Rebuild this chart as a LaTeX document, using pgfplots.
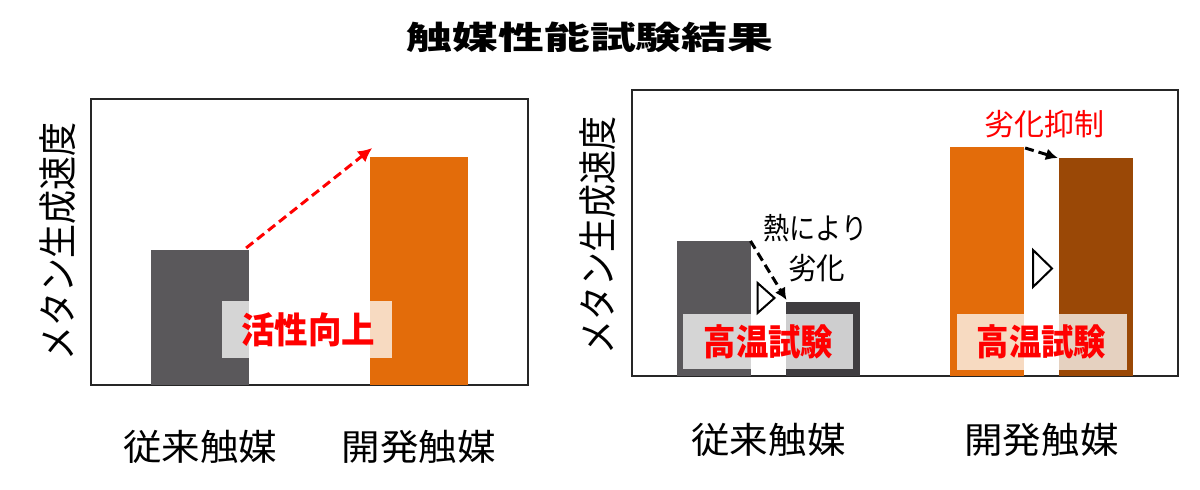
\documentclass[border=0pt]{standalone}
\usepackage{fontspec}
\setmainfont{Noto Sans CJK JP}
\usepackage{graphicx}
\usepackage{pgfplots}
\pgfplotsset{compat=1.18}
\usetikzlibrary{arrows.meta}

\definecolor{oldgray}{HTML}{5A585B}
\definecolor{oldgrayhot}{HTML}{3F3D40}
\definecolor{neworange}{HTML}{E36C0A}
\definecolor{newbrown}{HTML}{9A4806}
\definecolor{labelred}{HTML}{FF0000}

\pgfplotsset{
  panel/.style={
    scale only axis, anchor=south west, clip=false,
    xmin=-0.5, xmax=1.5, ymin=0, ymax=286,
    ytick=\empty, xtick={0,1}, major tick length=0pt,
    xticklabels={\scalebox{1.07}[1]{従来触媒}, \scalebox{1.07}[1]{開発触媒}},
    xticklabel style={anchor=center, font=\fontsize{18}{18}\selectfont},
    axis line style={black!85, line width=0.9pt},
    ylabel={\scalebox{1}[1.15]{メタン生成速度}},
    ylabel style={anchor=center, font=\fontsize{17}{17}\selectfont},
  },
  bar/.style={ybar, bar shift=0pt, draw=none, fill=#1},
}
\tikzset{
  tag/.style={fill=white, fill opacity=0.75, draw=none},
  tagtext/.style={font=\bfseries\fontsize{18}{18}\selectfont, text=labelred},
}

\begin{document}
\begin{tikzpicture}[x=1pt, y=1pt]
\useasboundingbox (0,0) rectangle (600,245);

\node[font=\bfseries\fontsize{16}{16}\selectfont] at (295,226.5)
  {\scalebox{1.43}[1]{触媒性能試験結果}};

% left: activity
\begin{axis}[panel, at={(45.5pt,52.5pt)}, width=218.5pt, height=143pt,
  xticklabel style={yshift=-31pt},
  ylabel style={at={(axis description cs:-0.0755,0.5)}}]
  \addplot[bar=oldgray, bar width=0.45] coordinates {(0,135)};
  \addplot[bar=neworange, bar width=0.45] coordinates {(1,228)};

  \fill[tag] (0.10,27) rectangle (0.879,84);
  \node[tagtext] at (0.494,55) {\scalebox{0.93}[1]{活性向上}};
  \draw[labelred, line width=1.5pt, dash pattern=on 4.5pt off 2.5pt,
        -{Latex[length=7pt,width=7pt]}] (0.21,137) -- (0.787,237);
\end{axis}

% right: high-temperature test
\begin{axis}[panel, at={(316pt,57pt)}, width=273pt, height=143pt,
  xticklabel style={yshift=-32pt},
  ylabel style={at={(axis description cs:-0.0623,0.49)}}]
  \addplot[bar=oldgray, bar width=0.27] coordinates {(-0.2,135)};
  \addplot[bar=oldgrayhot, bar width=0.27] coordinates {(0.2,74)};
  \addplot[bar=neworange, bar width=0.27] coordinates {(0.8,229)};
  \addplot[bar=newbrown, bar width=0.27] coordinates {(1.2,218)};

  \fill[tag] (-0.312,7) rectangle (0.308,62);
  \fill[tag] (0.69,6) rectangle (1.314,62);
  \node[tagtext] at (0,34) {\scalebox{0.9}[1]{高温試験}};
  \node[tagtext] at (1,34) {\scalebox{0.9}[1]{高温試験}};

  \draw[black, line width=1pt, fill=white, line join=miter]
    (-0.04,63) -- (0.022,78) -- (-0.04,93) -- cycle;
  \draw[black, line width=1pt, fill=white, line join=miter]
    (0.969,89) -- (1.0385,107.5) -- (0.969,126) -- cycle;

  \draw[black, line width=1.5pt, dash pattern=on 4.5pt off 2.5pt,
        -{Latex[length=6pt,width=6pt]}] (-0.066,135) -- (0.066,76);
  \draw[black, line width=1.5pt, dash pattern=on 4.5pt off 2.5pt,
        -{Latex[length=6pt,width=6pt]}] (0.94,228) -- (1.06,218);

  \node[font=\fontsize{15}{15}\selectfont] at (0.172,148) {\scalebox{0.87}[1]{熱により}};
  \node[font=\fontsize{15}{15}\selectfont] at (0.176,108) {\scalebox{0.95}[1]{劣化}};
  \node[font=\fontsize{15}{15}\selectfont, text=labelred] at (1.01,252) {劣化抑制};
\end{axis}
\end{tikzpicture}
\end{document}
